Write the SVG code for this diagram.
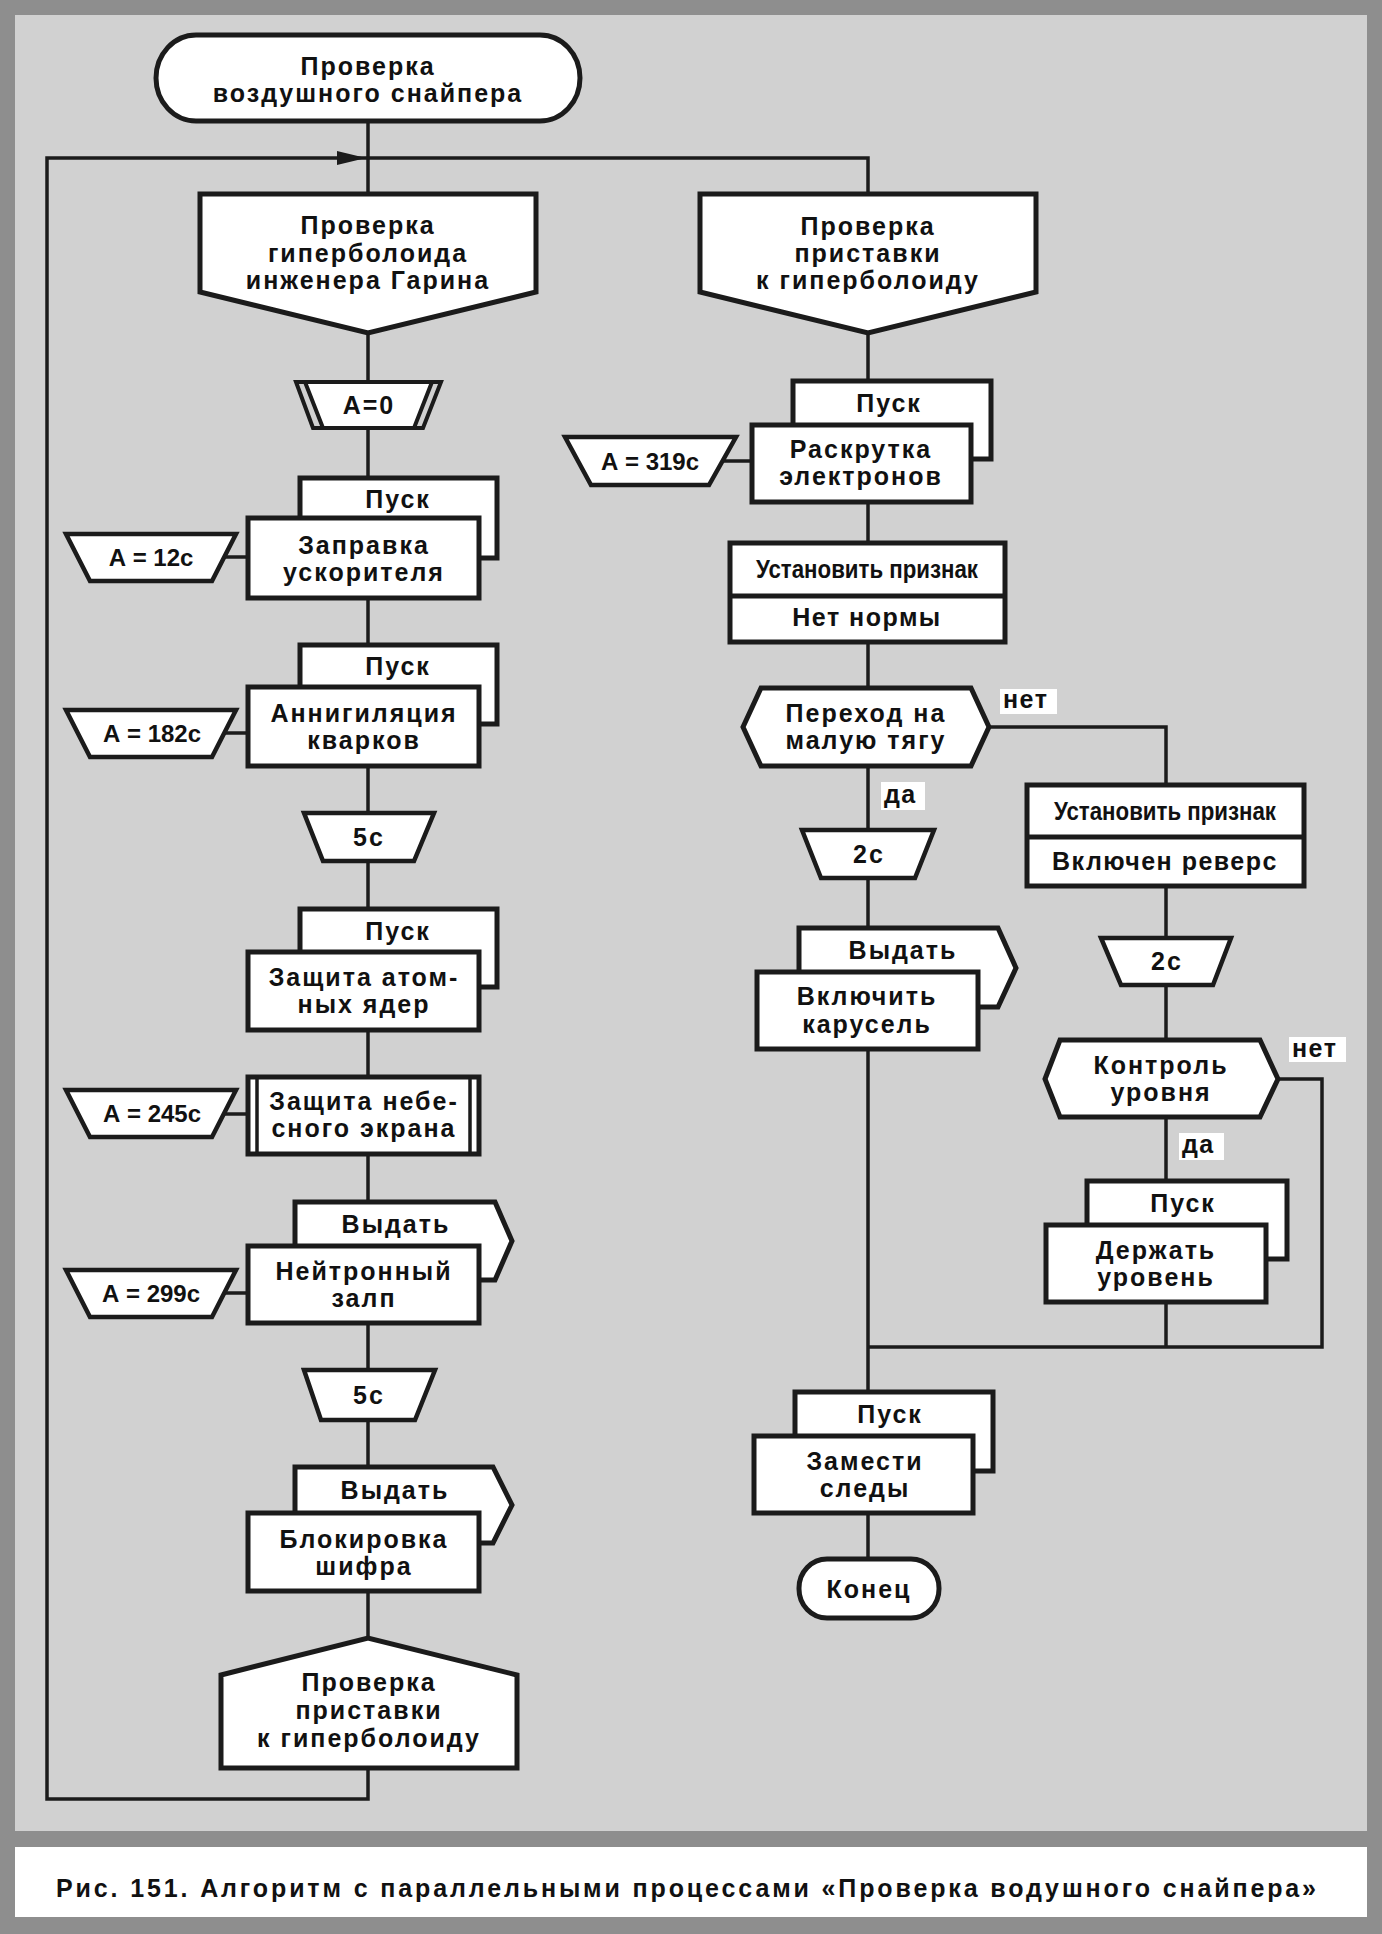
<svg xmlns="http://www.w3.org/2000/svg" width="1382" height="1934" viewBox="0 0 1382 1934">
<style>
.n{fill:#fff;stroke:#1b1b1b;stroke-width:5;stroke-linejoin:miter}
.tp{fill:#fff;stroke:#1b1b1b;stroke-width:4.5}
.c{fill:none;stroke:#1b1b1b;stroke-width:3.5}
.thin{stroke:#1b1b1b;stroke-width:3.5}
text{font-family:"Liberation Sans",Arial,sans-serif;fill:#111}
.t{font-size:25px;font-weight:bold;text-anchor:middle;letter-spacing:2px}
.r{font-size:25px;font-weight:bold;text-anchor:middle}
.m{font-size:25px;font-weight:bold;text-anchor:middle;letter-spacing:1.5px}
.a{font-size:24px;font-weight:bold;text-anchor:middle;letter-spacing:0}
.l{font-size:25px;font-weight:bold;letter-spacing:1.5px}
.cap{font-size:25px;font-weight:bold}
</style>
<rect x="0" y="0" width="1382" height="1934" fill="#8e8e8e"/>
<rect x="15" y="15" width="1352" height="1816" fill="#d1d1d1"/>
<rect x="15" y="1847" width="1352" height="70" fill="#fff"/>

<g id="connectors">
<path class="c" d="M368,121V194M368,333V382M368,428V478M368,598V645M368,766V813M368,861V909M368,1030V1077M368,1154V1202M368,1323V1370M368,1420V1467M368,1591V1638"/>
<path class="c" d="M368,1768V1799H47V158H868V194"/>
<polygon points="337,151 366,158 337,165" fill="#1b1b1b"/>
<path class="c" d="M224,557H248M224,733H248M224,1114H248M224,1293H248"/>
<path class="c" d="M868,333V381M868,502V543M868,642V688M868,766V830M868,878V928M868,1049V1392M868,1513V1559M722,461H752"/>
<path class="c" d="M989,727H1166V785M1166,886V938M1166,985V1040M1166,1117V1181M1166,1302V1347"/>
<path class="c" d="M1278,1079H1322V1347H868"/>
</g>

<g id="start">
<rect class="n" x="156" y="35" width="424" height="86" rx="40" ry="43"/>
<text class="t" x="368" y="75">Проверка</text>
<text class="t" x="368" y="102">воздушного снайпера</text>
</g>

<g id="proc-giperboloid">
<polygon class="n" points="200,194 536,194 536,292 368,333 200,292"/>
<text class="t" x="368" y="234">Проверка</text>
<text class="t" x="368" y="262">гиперболоида</text>
<text class="t" x="368" y="289">инженера Гарина</text>
</g>

<g id="a0">
<polygon points="296,382 441,382 423,428 313,428" fill="#d1d1d1" stroke="#1b1b1b" stroke-width="4"/>
<polygon points="305,382 432,382 414,428 323,428" fill="#fff" stroke="#1b1b1b" stroke-width="4"/>
<text class="t" x="369" y="414">А=0</text>
</g>

<g id="zapravka">
<rect class="n" x="300" y="478" width="197" height="80"/>
<rect class="n" x="248" y="518" width="231" height="80"/>
<text class="t" x="398" y="508">Пуск</text>
<text class="t" x="364" y="554">Заправка</text>
<text class="t" x="364" y="581">ускорителя</text>
</g>
<g id="a12">
<polygon class="tp" points="66,534 236,534 212,581 90,581"/>
<text class="a" x="151" y="566">А = 12с</text>
</g>

<g id="annig">
<rect class="n" x="300" y="645" width="197" height="79"/>
<rect class="n" x="248" y="687" width="231" height="79"/>
<text class="t" x="398" y="675">Пуск</text>
<text class="t" x="364" y="722">Аннигиляция</text>
<text class="t" x="364" y="749">кварков</text>
</g>
<g id="a182">
<polygon class="tp" points="66,710 236,710 212,757 90,757"/>
<text class="a" x="152" y="742">А = 182с</text>
</g>

<g id="t5a">
<polygon class="tp" points="304,813 434,813 414,861 323,861"/>
<text class="t" x="369" y="846">5с</text>
</g>

<g id="zashita-atom">
<rect class="n" x="300" y="909" width="197" height="78"/>
<rect class="n" x="248" y="952" width="231" height="78"/>
<text class="t" x="398" y="940">Пуск</text>
<text class="t" x="364" y="986">Защита атом-</text>
<text class="t" x="364" y="1013">ных ядер</text>
</g>

<g id="zashita-neb">
<rect class="n" x="248" y="1077" width="231" height="77"/>
<line class="thin" x1="257" y1="1077" x2="257" y2="1154"/>
<line class="thin" x1="470" y1="1077" x2="470" y2="1154"/>
<text class="t" x="364" y="1110">Защита небе-</text>
<text class="t" x="364" y="1137">сного экрана</text>
</g>
<g id="a245">
<polygon class="tp" points="66,1090 236,1090 212,1137 90,1137"/>
<text class="a" x="152" y="1122">А = 245с</text>
</g>

<g id="neitron">
<polygon class="n" points="295,1202 495,1202 512,1241 495,1280 295,1280"/>
<rect class="n" x="248" y="1246" width="231" height="77"/>
<text class="t" x="396" y="1233">Выдать</text>
<text class="t" x="364" y="1280">Нейтронный</text>
<text class="t" x="364" y="1307">залп</text>
</g>
<g id="a299">
<polygon class="tp" points="66,1270 236,1270 212,1317 90,1317"/>
<text class="a" x="151" y="1302">А = 299с</text>
</g>

<g id="t5b">
<polygon class="tp" points="304,1370 435,1370 415,1420 321,1420"/>
<text class="t" x="369" y="1404">5с</text>
</g>

<g id="blokirovka">
<polygon class="n" points="295,1467 493,1467 512,1505 493,1543 295,1543"/>
<rect class="n" x="248" y="1513" width="231" height="78"/>
<text class="t" x="395" y="1499">Выдать</text>
<text class="t" x="364" y="1548">Блокировка</text>
<text class="t" x="364" y="1575">шифра</text>
</g>

<g id="check-pristavka-end">
<polygon class="n" points="221,1675 368,1638 517,1675 517,1768 221,1768"/>
<text class="t" x="369" y="1691">Проверка</text>
<text class="t" x="369" y="1719">приставки</text>
<text class="t" x="369" y="1747">к гиперболоиду</text>
</g>

<g id="proc-pristavka">
<polygon class="n" points="700,194 1036,194 1036,292 868,333 700,292"/>
<text class="t" x="868" y="235">Проверка</text>
<text class="t" x="868" y="262">приставки</text>
<text class="t" x="868" y="289">к гиперболоиду</text>
</g>

<g id="raskrutka">
<rect class="n" x="793" y="381" width="198" height="78"/>
<rect class="n" x="752" y="425" width="219" height="77"/>
<text class="t" x="889" y="412">Пуск</text>
<text class="t" x="861" y="458">Раскрутка</text>
<text class="t" x="861" y="485">электронов</text>
</g>
<g id="a319">
<polygon class="tp" points="565,437 736,437 709,485 591,485"/>
<text class="a" x="650" y="470">А = 319с</text>
</g>

<g id="priznak1">
<rect class="n" x="730" y="543" width="275" height="99"/>
<line x1="730" y1="596" x2="1005" y2="596" stroke="#1b1b1b" stroke-width="5"/>
<text class="r" x="867" y="578" textLength="222" lengthAdjust="spacingAndGlyphs">Установить признак</text>
<text class="m" x="867" y="626">Нет нормы</text>
</g>

<g id="perehod">
<polygon class="n" points="743,727 761,688 971,688 989,727 971,766 761,766"/>
<text class="t" x="866" y="722">Переход на</text>
<text class="t" x="866" y="749">малую тягу</text>
</g>
<g id="lbl-net1">
<rect x="1000" y="689" width="57" height="25" fill="#fff"/>
<text class="l" x="1003" y="708">нет</text>
</g>
<g id="lbl-da1">
<rect x="881" y="782" width="44" height="28" fill="#fff"/>
<text class="l" x="884" y="803">да</text>
</g>

<g id="t2a">
<polygon class="tp" points="802,830 934,830 915,878 821,878"/>
<text class="t" x="869" y="863">2с</text>
</g>

<g id="karusel">
<polygon class="n" points="799,928 998,928 1016,968 998,1007 799,1007"/>
<rect class="n" x="757" y="972" width="221" height="77"/>
<text class="t" x="903" y="959">Выдать</text>
<text class="t" x="867" y="1005">Включить</text>
<text class="t" x="867" y="1033">карусель</text>
</g>

<g id="priznak2">
<rect class="n" x="1027" y="785" width="277" height="101"/>
<line x1="1027" y1="837" x2="1304" y2="837" stroke="#1b1b1b" stroke-width="5"/>
<text class="r" x="1165" y="820" textLength="222" lengthAdjust="spacingAndGlyphs">Установить признак</text>
<text class="m" x="1165" y="870">Включен реверс</text>
</g>

<g id="t2b">
<polygon class="tp" points="1101,938 1231,938 1213,985 1121,985"/>
<text class="t" x="1167" y="970">2с</text>
</g>

<g id="kontrol">
<polygon class="n" points="1045,1079 1060,1040 1260,1040 1278,1079 1260,1117 1060,1117"/>
<text class="t" x="1161" y="1074">Контроль</text>
<text class="t" x="1161" y="1101">уровня</text>
</g>
<g id="lbl-net2">
<rect x="1289" y="1037" width="57" height="25" fill="#fff"/>
<text class="l" x="1292" y="1057">нет</text>
</g>
<g id="lbl-da2">
<rect x="1179" y="1133" width="45" height="27" fill="#fff"/>
<text class="l" x="1182" y="1153">да</text>
</g>

<g id="derzhat">
<rect class="n" x="1087" y="1181" width="200" height="78"/>
<rect class="n" x="1046" y="1225" width="220" height="77"/>
<text class="t" x="1183" y="1212">Пуск</text>
<text class="t" x="1156" y="1259">Держать</text>
<text class="t" x="1156" y="1286">уровень</text>
</g>

<g id="zamesti">
<rect class="n" x="795" y="1392" width="198" height="79"/>
<rect class="n" x="754" y="1436" width="219" height="77"/>
<text class="t" x="890" y="1423">Пуск</text>
<text class="t" x="865" y="1470">Замести</text>
<text class="t" x="865" y="1497">следы</text>
</g>

<g id="end">
<rect class="n" x="799" y="1559" width="140" height="59" rx="28" ry="29"/>
<text class="t" x="869" y="1598">Конец</text>
</g>

<text class="cap" x="56" y="1897" textLength="1260" lengthAdjust="spacing">Рис. 151. Алгоритм с параллельными процессами «Проверка водушного снайпера»</text>
</svg>
